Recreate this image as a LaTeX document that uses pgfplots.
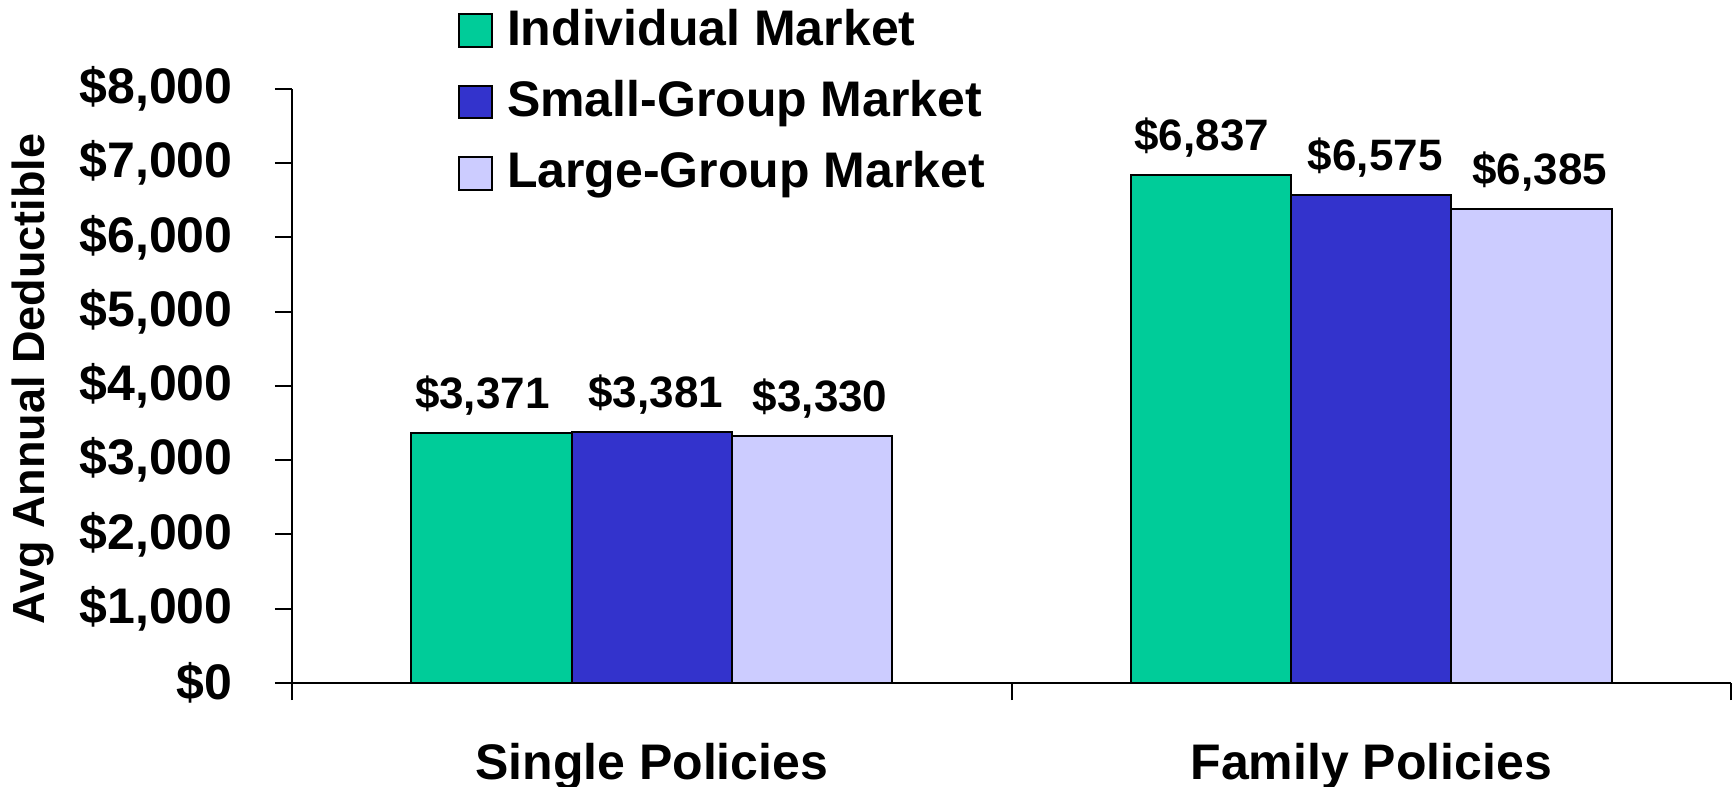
\documentclass[border=0pt]{standalone}
\usepackage{fontspec}
\setmainfont{Liberation Sans}
\usepackage{pgfplots}
\pgfplotsset{compat=1.18}
\definecolor{indiv}{RGB}{0,204,153}
\definecolor{smallgrp}{RGB}{51,51,204}
\definecolor{largegrp}{RGB}{204,204,255}

\begin{document}
\begin{tikzpicture}
\begin{axis}[
  name=ax,
  scale only axis,
  width=719.5pt, height=297pt,
  xmin=-0.5, xmax=1.5, ymin=0, ymax=8000,
  ybar=0pt, bar width=0.223,
  axis x line*=bottom, axis y line*=left,
  axis line style={line width=1pt},
  every tick/.style={black,line width=1pt},
  tick align=outside,
  major tick length=8.5pt,
  ytick={0,1000,...,8000},
  yticklabels={{\$0},{\$1,000},{\$2,000},{\$3,000},{\$4,000},{\$5,000},{\$6,000},{\$7,000},{\$8,000}},
  yticklabel style={font=\fontsize{25}{30}\selectfont\bfseries, inner sep=2pt, xshift=-19pt},
  % category boundaries carry the ticks, the names sit at the centres
  xtick={-0.5,0.5,1.5}, xticklabels={},
  extra x ticks={0,1},
  extra x tick labels={Single Policies,Family Policies},
  extra x tick style={tick style={draw=none},
    xticklabel style={font=\fontsize{25}{30}\selectfont\bfseries, yshift=-18pt}},
  ylabel={Avg Annual Deductible},
  every axis y label/.style={at={(rel axis cs:0,0.5)}, xshift=-129.5pt, yshift=3.5pt,
    rotate=90, anchor=center, font=\fontsize{22.5}{27}\selectfont\bfseries},
  clip=false,
  point meta=explicit symbolic,
  nodes near coords,
  every node near coord/.append style={font=\fontsize{22}{26}\selectfont\bfseries, anchor=south, yshift=5pt},
  legend style={at={(rel axis cs:0.1154,1.142)}, anchor=north west, draw=none, fill=none,
    font=\fontsize{25}{30}\selectfont\bfseries, row sep=12pt, column sep=5pt, inner sep=0pt},
  legend cell align=left,
  legend image code/.code={\draw[#1,draw=black,line width=1pt] (0pt,-9.2pt) rectangle (16.3pt,7.1pt);},
]
\addplot[fill=indiv,draw=black,line width=1pt,
  every node near coord/.append style={xshift=-4.5pt}]
  coordinates {(0,3371) [{\$3,371}] (1,6837) [{\$6,837}]};
\addplot[fill=smallgrp,draw=black,line width=1pt,
  every node near coord/.append style={xshift=2pt}]
  coordinates {(0,3381) [{\$3,381}] (1,6575) [{\$6,575}]};
\addplot[fill=largegrp,draw=black,line width=1pt,
  every node near coord/.append style={xshift=4pt}]
  coordinates {(0,3330) [{\$3,330}] (1,6385) [{\$6,385}]};
\legend{Individual Market,Small-Group Market,Large-Group Market}
\end{axis}
\pgfresetboundingbox
\path[use as bounding box] ([xshift=-146pt,yshift=-52pt]ax.south west) rectangle ++(868pt,393.5pt);
\end{tikzpicture}
\end{document}
